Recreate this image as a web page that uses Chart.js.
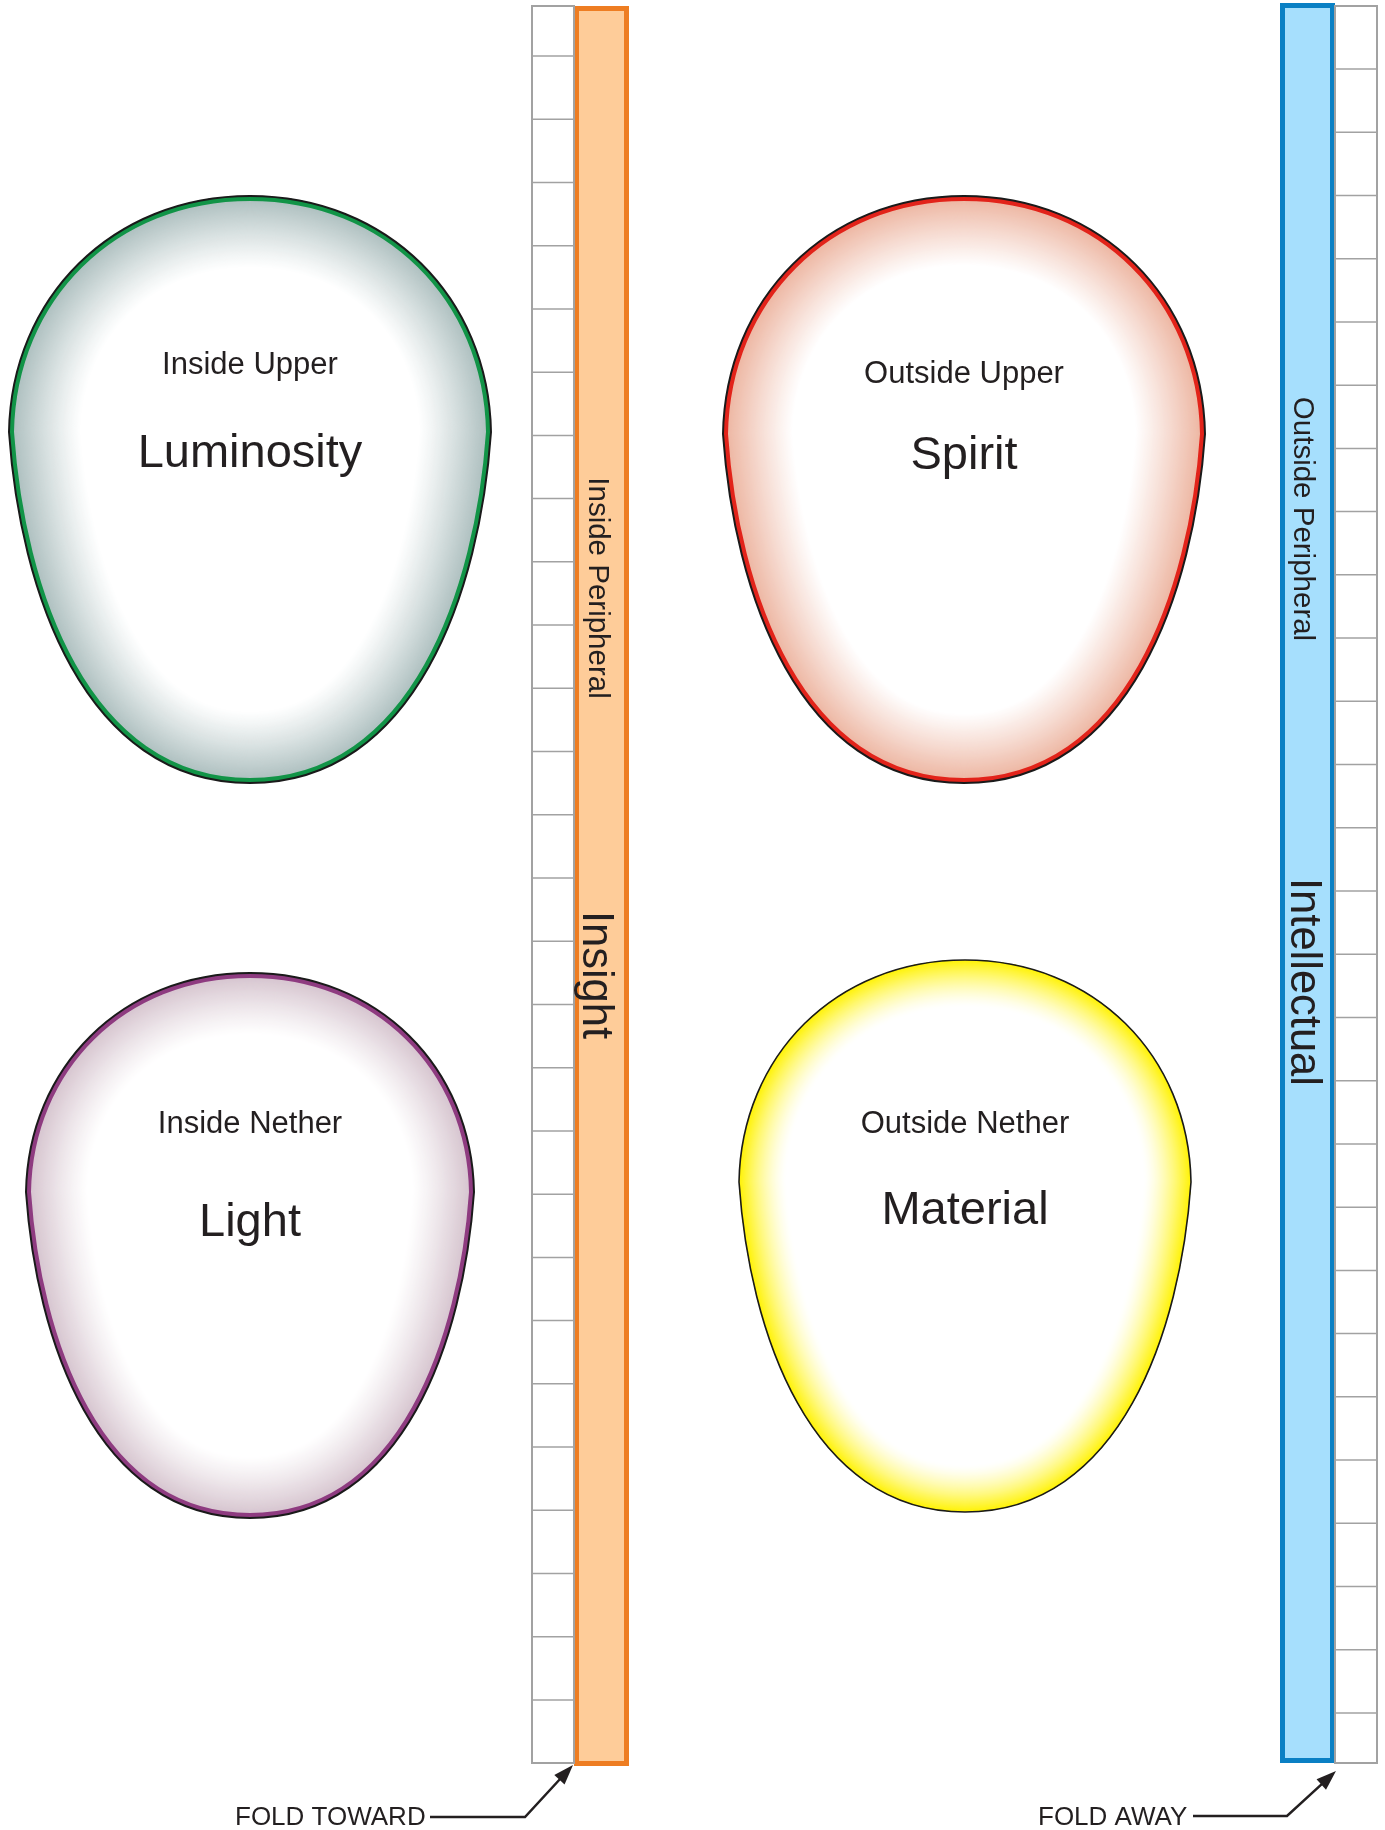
<!DOCTYPE html>
<html><head><meta charset="utf-8">
<script src="https://cdn.jsdelivr.net/npm/chart.js@4.4.1/dist/chart.umd.min.js"></script>
<style>html,body{margin:0;padding:0;background:#fff;}canvas{display:block}</style>
</head><body>
<canvas id="c" width="1385" height="1830"></canvas>
<script>
// ---- content ----
const eggNames     = ['Luminosity', 'Spirit', 'Light', 'Material'];
const eggSubtitles = ['Inside Upper', 'Outside Upper', 'Inside Nether', 'Outside Nether'];
const stripTitles  = ['Inside Peripheral', 'Outside Peripheral'];
const stripNames   = ['Insight', 'Intellectual'];
const foldLabels   = ['FOLD TOWARD', 'FOLD AWAY'];
const ladderCells  = [28, 28];

// ---- layout (diagram geometry in canvas units) ----
const eggLeft   = [9, 723, 26, 739];
const eggRight  = [491, 1205, 474, 1191];
const eggTop    = [196, 196, 973, 960];
const eggBottom = [783, 783, 1518, 1512];
const eggWaist  = [432, 434, 1192, 1182];
const subBase   = [374, 383, 1133, 1133];
const nameBase  = [467, 469, 1236, 1224];

const style = {
  text: '#231F20',
  eggEdge:   ['#A9BCBC', '#ECB29D', '#D3C0CB', '#FFF200'],
  eggLine:   ['#119447', '#E2231A', '#8E3B80', null],
  eggBand:   [72, 70, 62, 48],
  eggPow:    [1.1, 1.05, 1.15, 1.5]
};

function hex(c){ return [1,3,5].map(k=>parseInt(c.substr(k,2),16)); }
function mix(c, u){ const a=hex(c); return 'rgb('+a.map(v=>Math.round(255+(v-255)*u)).join(',')+')'; }

const diagram = {
  id: 'diagram',
  beforeDatasetsDraw(chart){
    const ctx = chart.ctx, xs = chart.scales.x, ys = chart.scales.y;
    const X = v => xs.getPixelForValue(v), Y = v => ys.getPixelForValue(v);
    const FONT = '"Liberation Sans", Arial, Helvetica, sans-serif';

    function eggPath(i){
      const l=X(eggLeft[i]), r=X(eggRight[i]), t=Y(eggTop[i]), b=Y(eggBottom[i]), m=Y(eggWaist[i]);
      const cx=(l+r)/2, hw=(r-l)/2, ht=m-t, hb=b-m;
      ctx.beginPath();
      ctx.moveTo(cx,t);
      ctx.bezierCurveTo(cx+0.57*hw,t, r-0.01*hw,m-0.57*ht, r,m);
      ctx.bezierCurveTo(r-0.045*hw,m+0.45*hb, cx+0.69*hw,b, cx,b);
      ctx.bezierCurveTo(cx-0.69*hw,b, l+0.045*hw,m+0.45*hb, l,m);
      ctx.bezierCurveTo(l+0.01*hw,m-0.57*ht, cx-0.57*hw,t, cx,t);
      ctx.closePath();
    }

    // eggs
    eggNames.forEach((name,i)=>{
      ctx.save();
      eggPath(i);
      ctx.clip();
      ctx.fillStyle='#fff'; ctx.fill();
      ctx.lineJoin='round';
      const band=style.eggBand[i];
      for(let d=band; d>=1; d-=1){
        const u=Math.pow(1-d/band, style.eggPow[i]);
        ctx.strokeStyle=mix(style.eggEdge[i], u);
        ctx.lineWidth=2*d;
        ctx.stroke();
      }
      if(style.eggLine[i]){
        ctx.strokeStyle=style.eggLine[i];
        ctx.lineWidth=10;
        ctx.stroke();
      }
      ctx.restore();
      eggPath(i);
      ctx.strokeStyle='#1a1a1a';
      ctx.lineWidth= style.eggLine[i] ? 2.0 : 1.6;
      ctx.stroke();

      const cx=(X(eggLeft[i])+X(eggRight[i]))/2;
      ctx.fillStyle=style.text;
      ctx.textAlign='center'; ctx.textBaseline='alphabetic';
      ctx.font='31px '+FONT;
      ctx.fillText(eggSubtitles[i], cx, Y(subBase[i]));
      ctx.font='47px '+FONT;
      ctx.fillText(name, cx, Y(nameBase[i]));
    });

    // strips
    function strip(x0,x1,y0,y1,fill,line){
      ctx.fillStyle=fill;
      ctx.fillRect(X(x0),Y(y0),X(x1)-X(x0),Y(y1)-Y(y0));
      ctx.strokeStyle=line; ctx.lineWidth=5;
      ctx.strokeRect(X(x0)+2.5,Y(y0)+2.5,X(x1)-X(x0)-5,Y(y1)-Y(y0)-5);
    }
    strip(574,629,6,1766,'#FECC99','#EE7D22');
    strip(1280,1335,3,1763,'#A6DFFD','#0A80C4');

    function ladder(x0,x1,y0,y1,firstLine,lastLine,n){
      ctx.fillStyle='#fff';
      ctx.fillRect(X(x0),Y(y0),X(x1)-X(x0),Y(y1)-Y(y0));
      ctx.strokeStyle='#A2A2A2';
      ctx.lineWidth=1.5;
      const step=(lastLine-firstLine)/(n-2);
      for(let k=0;k<n-1;k++){
        const y=Y(firstLine+k*step);
        ctx.beginPath(); ctx.moveTo(X(x0),y); ctx.lineTo(X(x1),y); ctx.stroke();
      }
      ctx.lineWidth=2;
      ctx.strokeRect(X(x0),Y(y0),X(x1)-X(x0),Y(y1)-Y(y0));
    }
    ladder(532,574,6,1763,56,1700,ladderCells[0]);
    ladder(1335,1377,6,1763,69,1713,ladderCells[1]);

    // vertical strip texts
    function vtext(t,size,xc,yc){
      ctx.save();
      ctx.font=size+'px '+FONT;
      ctx.fillStyle=style.text;
      ctx.translate(X(xc)-size*0.358, Y(yc));
      ctx.rotate(Math.PI/2);
      ctx.textAlign='center'; ctx.textBaseline='alphabetic';
      ctx.fillText(t,0,0);
      ctx.restore();
    }
    vtext(stripTitles[0],29.5,600,588);
    vtext(stripNames[0],43.5,599,975);
    vtext(stripTitles[1],29.5,1305,519);
    vtext(stripNames[1],43.5,1307,982);

    // fold arrows
    function fold(label,tx,x0,x1,y,tipX,tipY){
      ctx.fillStyle=style.text;
      ctx.font='26px '+FONT;
      ctx.textAlign='left'; ctx.textBaseline='alphabetic';
      ctx.fillText(label,X(tx),Y(1825));
      ctx.strokeStyle='#231F20'; ctx.lineWidth=2.5; ctx.lineJoin='miter';
      const ang=Math.atan2(Y(tipY)-Y(y),X(tipX)-X(x1));
      const hx=X(tipX)-16*Math.cos(ang), hy=Y(tipY)-16*Math.sin(ang);
      ctx.beginPath(); ctx.moveTo(X(x0),Y(y)); ctx.lineTo(X(x1),Y(y)); ctx.lineTo(hx,hy); ctx.stroke();
      ctx.beginPath();
      ctx.moveTo(X(tipX),Y(tipY));
      ctx.lineTo(X(tipX)-20*Math.cos(ang)+7*Math.sin(ang), Y(tipY)-20*Math.sin(ang)-7*Math.cos(ang));
      ctx.lineTo(X(tipX)-20*Math.cos(ang)-7*Math.sin(ang), Y(tipY)-20*Math.sin(ang)+7*Math.cos(ang));
      ctx.closePath(); ctx.fill();
    }
    fold(foldLabels[0],235,430,525,1817,573,1765);
    fold(foldLabels[1],1038,1193,1287,1816,1336,1771);
  }
};

new Chart(document.getElementById('c'), {
  type: 'scatter',
  data: { datasets: [{ data: eggNames.map((n,i)=>({x:(eggLeft[i]+eggRight[i])/2, y:eggWaist[i]})), pointRadius:0, showLine:false }] },
  options: {
    responsive:false, animation:false, devicePixelRatio:1,
    layout:{padding:0},
    plugins:{legend:{display:false}, tooltip:{enabled:false}},
    scales:{
      x:{type:'linear', min:0, max:1385, display:false},
      y:{type:'linear', min:0, max:1830, reverse:true, display:false}
    }
  },
  plugins:[diagram]
});
</script>
</body></html>
